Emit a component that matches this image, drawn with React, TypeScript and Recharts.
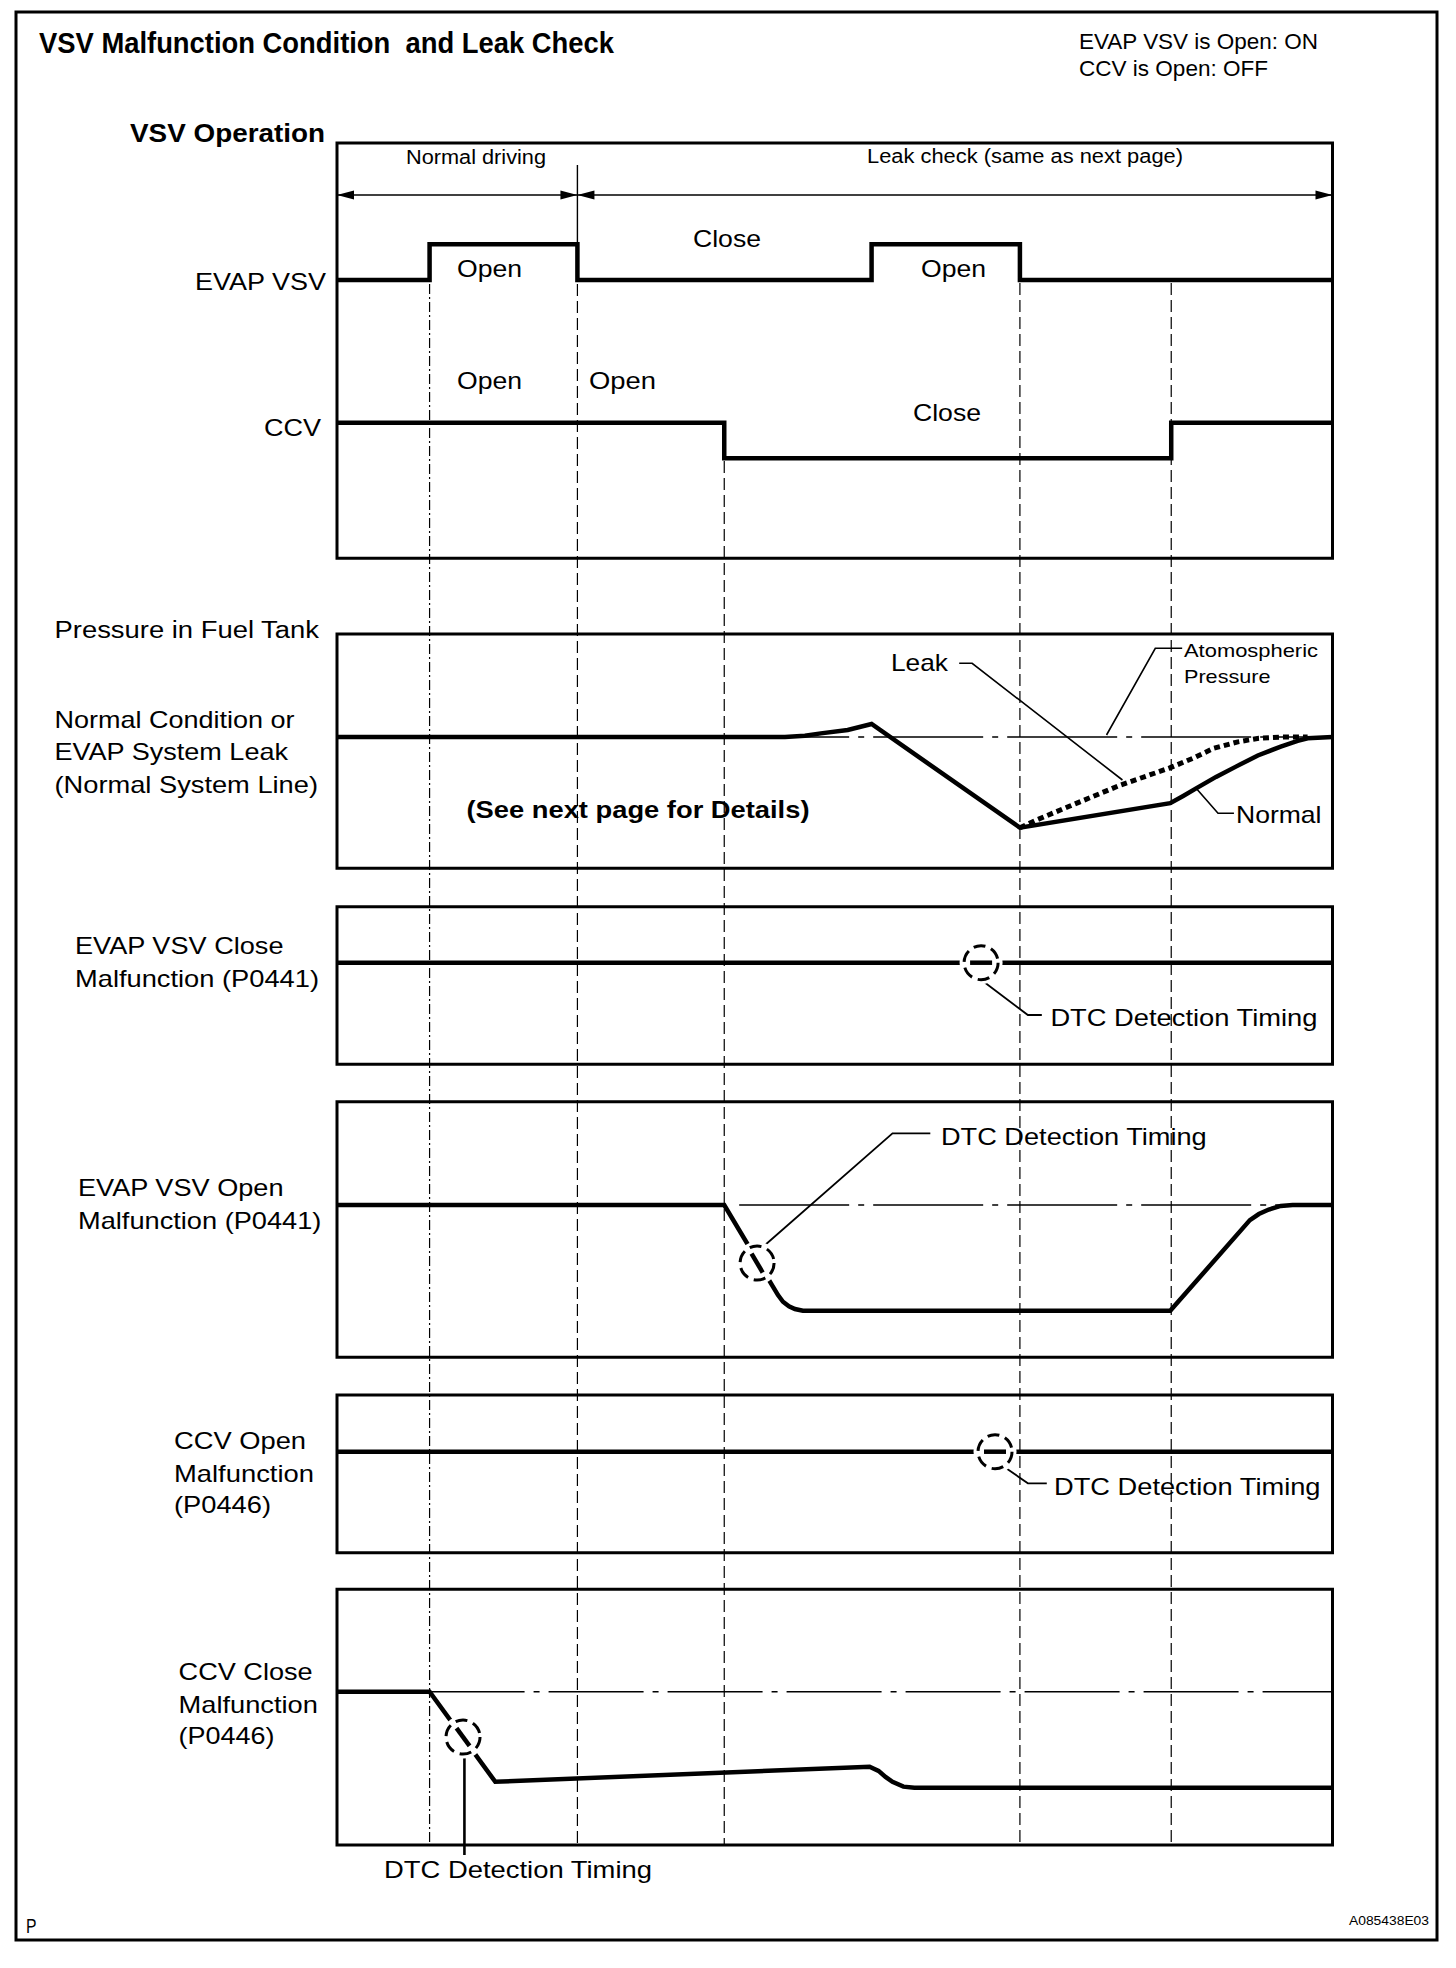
import React from 'react';
import { ComposedChart, Line, XAxis, YAxis, ReferenceLine, ReferenceArea, ReferenceDot } from 'recharts';

// ---------------- layout constants ----------------
const PAGE_W = 1456;
const PAGE_H = 1968;
const X0 = 337;
const X1 = 1332.5;
const PRESSURE_PX = 30.23; // px per pressure unit
const FONT = '"Liberation Sans", Arial, Helvetica, sans-serif';

// ---------------- data ----------------
const TIME_DOMAIN: [number, number] = [0, 100];
const EVENT_TIMES = [9.3, 24.15, 38.9, 53.7, 68.6, 83.8];
const ATM = 0; // atmospheric pressure level

// VSV operation (1 = Open, 0 = Close)
const evapVsvTime = [0, 9.3, 9.3, 24.15, 24.15, 53.7, 53.7, 68.6, 68.6, 100];
const evapVsvLevel = [0, 0, 1, 1, 0, 0, 1, 1, 0, 0];
const ccvTime = [0, 38.9, 38.9, 83.8, 83.8, 100];
const ccvLevel = [1, 1, 0, 0, 1, 1];

// Pressure in fuel tank (relative to atmospheric)
const normalTime = [0, 45, 47, 48.6, 51.3, 53.7, 68.6, 83.7, 85, 86.3, 88.3, 90.3, 92.5, 94.8, 96.5, 97.5, 100];
const normalPressure = [0, 0, 0.04, 0.12, 0.23, 0.43, -3.0, -2.19, -1.95, -1.7, -1.32, -0.98, -0.61, -0.32, -0.13, -0.04, 0];
const leakTime = [68.6, 70.1, 73.5, 78.7, 83.6, 86, 88.1, 90.5, 92.6, 95, 97.5];
const leakPressure = [-3.0, -2.77, -2.3, -1.59, -1.03, -0.7, -0.37, -0.16, -0.04, 0, 0];

// Malfunction cases
const vsvCloseTime = [0, 100];
const vsvClosePressure = [0, 0];
const vsvOpenTime = [0, 38.9, 43.7, 44.3, 44.8, 45.4, 46.0, 46.8, 83.7, 91.7, 92.6, 93.6, 94.8, 96, 100];
const vsvOpenPressure = [0, 0, -2.65, -2.98, -3.2, -3.35, -3.44, -3.5, -3.5, -0.5, -0.3, -0.15, -0.03, 0, 0];
const ccvOpenTime = [0, 100];
const ccvOpenPressure = [0, 0];
const ccvCloseTime = [0, 9.3, 15.9, 53.5, 54.4, 55.1, 55.8, 56.9, 58, 100];
const ccvClosePressure = [0, 0, -2.98, -2.48, -2.62, -2.82, -2.98, -3.14, -3.18, -3.18];

// DTC detection timing points
const dtcTime = [64.7, 42.2, 66.1, 12.66];
const dtcPressure = [0, -1.92, 0, -1.5];

const rows = (ts: number[], vs: number[]) => ts.map((t, i) => ({ t, v: vs[i] }));

// ---------------- layout (page coordinates) ----------------
const PANELS: [number, number][] = [
  [143, 558.3],
  [634, 868.3],
  [906.7, 1064.3],
  [1101.7, 1357.3],
  [1395, 1552.7],
  [1589.3, 1845],
];
const ZERO_Y = { evap: 280, ccv: 458.3, p2: 737, p3: 962.7, p4: 1205, p5: 1451.7, p6: 1691.7 };

const axisDomain = (zeroY: number, pxPerUnit: number): [number, number] => {
  const top = zeroY / pxPerUnit;
  return [top - PAGE_H / pxPerUnit, top];
};

const DIVIDERS = [
  { t: EVENT_TIMES[0], from: 284, dash: '10 3 2 3' },
  { t: EVENT_TIMES[1], from: 284, dash: '12 5' },
  { t: EVENT_TIMES[2], from: 461, dash: '12 5' },
  { t: EVENT_TIMES[4], from: 283, dash: '12 5' },
  { t: EVENT_TIMES[5], from: 283, dash: '12 5' },
];
const DIVIDER_END = 1845;

const LEADERS: { t: number[]; y: number[]; w: number }[] = [
  { t: [62.5, 63.8, 78.9], y: [663.3, 663.3, 780], w: 1.6 },
  { t: [77.3, 82.2, 84.9], y: [735, 648.3, 648.3], w: 1.6 },
  { t: [86.3, 88.5, 90.1], y: [788.3, 813.3, 813.3], w: 1.6 },
  { t: [64.5, 69.4, 70.8], y: [978.3, 1015, 1015], w: 1.8 },
  { t: [42.8, 55.8, 59.6], y: [1246.7, 1133.3, 1133.3], w: 1.8 },
  { t: [67.0, 69.4, 71.3], y: [1466.7, 1483.3, 1483.3], w: 1.8 },
  { t: [12.8, 12.8], y: [1755, 1855], w: 2.6 },
];

type Lbl = { s: string; x: number; y: number; w: number; fs: number; bold?: boolean };
const LABELS: Lbl[] = [
  { s: 'VSV Malfunction Condition  and Leak Check', x: 39, y: 53, w: 575, fs: 29, bold: true },
  { s: 'EVAP VSV is Open: ON', x: 1079, y: 48.5, w: 239, fs: 22 },
  { s: 'CCV is Open: OFF', x: 1079, y: 76, w: 189, fs: 22 },
  { s: 'VSV Operation', x: 130, y: 141.5, w: 195, fs: 26, bold: true },
  { s: 'Normal driving', x: 406, y: 164, w: 140, fs: 20 },
  { s: 'Leak check (same as next page)', x: 867, y: 163, w: 316, fs: 20 },
  { s: 'Open', x: 457, y: 277, w: 65, fs: 23 },
  { s: 'Close', x: 693, y: 246.5, w: 68, fs: 24 },
  { s: 'Open', x: 921, y: 277, w: 65, fs: 23 },
  { s: 'Open', x: 457, y: 389, w: 65, fs: 23 },
  { s: 'Open', x: 589, y: 389, w: 67, fs: 23 },
  { s: 'Close', x: 913, y: 421, w: 68, fs: 24 },
  { s: 'EVAP VSV', x: 195, y: 290, w: 131, fs: 24 },
  { s: 'CCV', x: 264, y: 435.5, w: 57, fs: 24 },
  { s: 'Pressure in Fuel Tank', x: 54.5, y: 638.3, w: 264.5, fs: 23 },
  { s: 'Normal Condition or', x: 54.5, y: 727.7, w: 240, fs: 24 },
  { s: 'EVAP System Leak', x: 54.5, y: 760, w: 233.5, fs: 24 },
  { s: '(Normal System Line)', x: 54.5, y: 792.5, w: 263.5, fs: 24 },
  { s: '(See next page for Details)', x: 466.5, y: 818, w: 343, fs: 24, bold: true },
  { s: 'Leak', x: 891, y: 671, w: 57, fs: 24 },
  { s: 'Atomospheric', x: 1184, y: 657.3, w: 134, fs: 19 },
  { s: 'Pressure', x: 1184, y: 683.3, w: 86.5, fs: 19 },
  { s: 'Normal', x: 1236, y: 822.7, w: 85.5, fs: 24 },
  { s: 'EVAP VSV Close', x: 75, y: 954, w: 208.5, fs: 24 },
  { s: 'Malfunction (P0441)', x: 75, y: 986.7, w: 244, fs: 24 },
  { s: 'DTC Detection Timing', x: 1050.4, y: 1026, w: 267, fs: 24 },
  { s: 'EVAP VSV Open', x: 78, y: 1195.5, w: 205.5, fs: 24 },
  { s: 'Malfunction (P0441)', x: 78, y: 1229, w: 243.4, fs: 24 },
  { s: 'DTC Detection Timing', x: 941, y: 1145, w: 265.7, fs: 24 },
  { s: 'CCV Open', x: 174, y: 1449, w: 132, fs: 24 },
  { s: 'Malfunction', x: 174, y: 1482, w: 140, fs: 24 },
  { s: '(P0446)', x: 174, y: 1513, w: 97, fs: 24 },
  { s: 'DTC Detection Timing', x: 1054, y: 1495, w: 266.5, fs: 24 },
  { s: 'CCV Close', x: 178.6, y: 1680, w: 134, fs: 24 },
  { s: 'Malfunction', x: 178.6, y: 1713.3, w: 139.3, fs: 24 },
  { s: '(P0446)', x: 178.6, y: 1744, w: 96, fs: 24 },
  { s: 'DTC Detection Timing', x: 384, y: 1878, w: 268, fs: 24 },
  { s: 'P', x: 26, y: 1933, w: 10.5, fs: 20 },
  { s: 'A085438E03', x: 1349, y: 1925, w: 80, fs: 12.5 },
];

// ---------------- shapes ----------------
const DoubleArrow = (props: any) => {
  const { x1, y1, x2 } = props;
  const lo = Math.min(x1, x2);
  const hi = Math.max(x1, x2);
  const L = 17;
  const hw = 4.5;
  return (
    <g>
      <line x1={lo} y1={y1} x2={hi} y2={y1} stroke="#000" strokeWidth={1.6} />
      <polygon points={`${lo},${y1} ${lo + L},${y1 - hw} ${lo + L},${y1 + hw}`} fill="#000" />
      <polygon points={`${hi},${y1} ${hi - L},${y1 - hw} ${hi - L},${y1 + hw}`} fill="#000" />
    </g>
  );
};

const dtcShape = (dir: [number, number]) => (p: any) => {
  const { cx, cy } = p;
  const [dx, dy] = dir;
  return (
    <g>
      <circle cx={cx} cy={cy} r={21.5} fill="#fff" />
      <line x1={cx - dx * 11} y1={cy - dy * 11} x2={cx + dx * 11} y2={cy + dy * 11} stroke="#000" strokeWidth={4.5} />
      <circle cx={cx} cy={cy} r={17} fill="none" stroke="#000" strokeWidth={3} strokeDasharray="12 6" />
    </g>
  );
};

const DTC_AXES = ['p3', 'p4', 'p5', 'p6'];
const DTC_DIRS: [number, number][] = [[1, 0], [0.507, 0.862], [1, 0], [0.591, 0.807]];

const sig = {
  stroke: '#000',
  dot: false as const,
  activeDot: false as const,
  isAnimationActive: false,
  type: 'linear' as const,
  strokeLinejoin: 'miter' as const,
  strokeLinecap: 'butt' as const,
};

export default function App() {
  return (
    <div style={{ position: 'absolute', left: 0, top: 0, width: PAGE_W, height: PAGE_H, background: '#fff', overflow: 'hidden' }}>
      <div style={{ position: 'absolute', left: 0, top: 0 }}>
        <ComposedChart width={PAGE_W} height={PAGE_H} margin={{ top: 0, right: PAGE_W - X1, bottom: 0, left: X0 }}>
          <XAxis type="number" dataKey="t" domain={TIME_DOMAIN} hide allowDataOverflow />
          <YAxis yAxisId="page" type="number" domain={[0, PAGE_H]} reversed hide allowDataOverflow />
          <YAxis yAxisId="evap" type="number" domain={axisDomain(ZERO_Y.evap, 35.7)} hide allowDataOverflow />
          <YAxis yAxisId="ccv" type="number" domain={axisDomain(ZERO_Y.ccv, 35.6)} hide allowDataOverflow />
          <YAxis yAxisId="p2" type="number" domain={axisDomain(ZERO_Y.p2, PRESSURE_PX)} hide allowDataOverflow />
          <YAxis yAxisId="p3" type="number" domain={axisDomain(ZERO_Y.p3, PRESSURE_PX)} hide allowDataOverflow />
          <YAxis yAxisId="p4" type="number" domain={axisDomain(ZERO_Y.p4, PRESSURE_PX)} hide allowDataOverflow />
          <YAxis yAxisId="p5" type="number" domain={axisDomain(ZERO_Y.p5, PRESSURE_PX)} hide allowDataOverflow />
          <YAxis yAxisId="p6" type="number" domain={axisDomain(ZERO_Y.p6, PRESSURE_PX)} hide allowDataOverflow />

          {PANELS.map(([top, bottom], i) => (
            <ReferenceArea key={`panel${i}`} yAxisId="page" x1={0} x2={100} y1={top} y2={bottom} fill="none" fillOpacity={0} stroke="#000" strokeWidth={3} ifOverflow="visible" />
          ))}

          {DIVIDERS.map((d, i) => (
            <ReferenceLine key={`div${i}`} yAxisId="page" segment={[{ x: d.t, y: d.from }, { x: d.t, y: DIVIDER_END }]} stroke="#000" strokeWidth={1.2} strokeDasharray={d.dash} ifOverflow="visible" />
          ))}
          <ReferenceLine yAxisId="page" segment={[{ x: EVENT_TIMES[1], y: 165 }, { x: EVENT_TIMES[1], y: 244 }]} stroke="#000" strokeWidth={1.4} ifOverflow="visible" />
          <ReferenceLine yAxisId="page" segment={[{ x: 0, y: 195 }, { x: EVENT_TIMES[1], y: 195 }]} shape={DoubleArrow} ifOverflow="visible" />
          <ReferenceLine yAxisId="page" segment={[{ x: EVENT_TIMES[1], y: 195 }, { x: 100, y: 195 }]} shape={DoubleArrow} ifOverflow="visible" />

          {/* atmospheric pressure references */}
          <ReferenceLine yAxisId="p2" segment={[{ x: 40.4, y: ATM }, { x: 100, y: ATM }]} stroke="#000" strokeWidth={1.4} strokeDasharray="110 9 6 9" ifOverflow="visible" />
          <ReferenceLine yAxisId="p4" segment={[{ x: 40.4, y: ATM }, { x: 100, y: ATM }]} stroke="#000" strokeWidth={1.4} strokeDasharray="110 9 6 9" ifOverflow="visible" />
          <ReferenceLine yAxisId="p6" segment={[{ x: EVENT_TIMES[0], y: ATM }, { x: 100, y: ATM }]} stroke="#000" strokeWidth={1.4} strokeDasharray="95 9 6 9" ifOverflow="visible" />

          {/* leader lines */}
          {LEADERS.map((l, i) => (
            <Line key={`lead${i}`} {...sig} yAxisId="page" data={rows(l.t, l.y)} dataKey="v" strokeWidth={l.w} />
          ))}

          {/* signals */}
          <Line {...sig} yAxisId="evap" data={rows(evapVsvTime, evapVsvLevel)} dataKey="v" strokeWidth={4.5} />
          <Line {...sig} yAxisId="ccv" data={rows(ccvTime, ccvLevel)} dataKey="v" strokeWidth={4.5} />
          <Line {...sig} yAxisId="p2" data={rows(normalTime, normalPressure)} dataKey="v" strokeWidth={4.5} />
          <Line {...sig} yAxisId="p2" data={rows(leakTime, leakPressure)} dataKey="v" strokeWidth={5} strokeDasharray="6 4" />
          <Line {...sig} yAxisId="p3" data={rows(vsvCloseTime, vsvClosePressure)} dataKey="v" strokeWidth={4.5} />
          <Line {...sig} yAxisId="p4" data={rows(vsvOpenTime, vsvOpenPressure)} dataKey="v" strokeWidth={4.5} />
          <Line {...sig} yAxisId="p5" data={rows(ccvOpenTime, ccvOpenPressure)} dataKey="v" strokeWidth={4.5} />
          <Line {...sig} yAxisId="p6" data={rows(ccvCloseTime, ccvClosePressure)} dataKey="v" strokeWidth={4.5} />

          {dtcTime.map((t, i) => (
            <ReferenceDot key={`dtc${i}`} yAxisId={DTC_AXES[i]} x={t} y={dtcPressure[i]} r={17} shape={dtcShape(DTC_DIRS[i])} ifOverflow="visible" />
          ))}
        </ComposedChart>
      </div>
      <svg width={PAGE_W} height={PAGE_H} style={{ position: 'absolute', left: 0, top: 0, pointerEvents: 'none' }}>
        <rect x={16} y={12} width={1421} height={1928} fill="none" stroke="#000" strokeWidth={3} />
        {LABELS.map((l, i) => (
          <text
            key={i}
            x={l.x}
            y={l.y}
            fontSize={l.fs}
            fontFamily={FONT}
            fontWeight={l.bold ? 700 : 400}
            textLength={l.w}
            lengthAdjust="spacingAndGlyphs"
            fill="#000"
            style={{ whiteSpace: 'pre' }}
          >
            {l.s}
          </text>
        ))}
      </svg>
    </div>
  );
}
